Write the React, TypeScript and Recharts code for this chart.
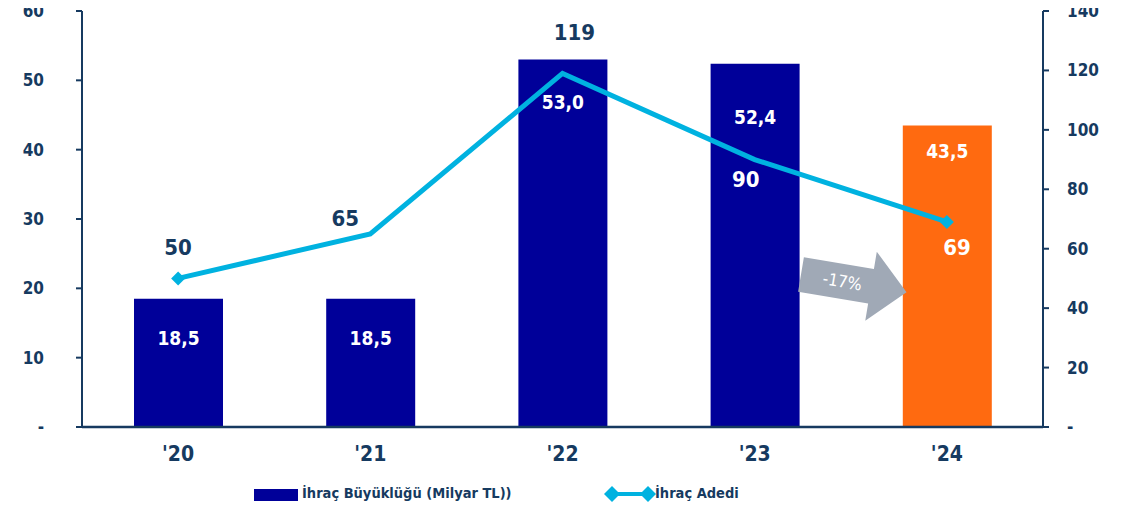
import React from 'react';
import {
  ComposedChart,
  Bar,
  Line,
  XAxis,
  YAxis,
  Legend,
  LabelList,
  Cell,
} from 'recharts';

// data
const years = ["'20", "'21", "'22", "'23", "'24"];
const issueVolume = [18.5, 18.5, 53.0, 52.4, 43.5]; // İhraç Büyüklüğü (Milyar TL)
const issueCount = [50, 65, 119, 90, 69]; // İhraç Adedi
const leftTicks = [0, 10, 20, 30, 40, 50, 60];
const rightTicks = [0, 20, 40, 60, 80, 100, 120, 140];
const changeLabel = '-17%';

// layout tweaks for the value labels (px)
const barLabelDy = [39, 39, 42, 53, 26];
const lineLabelDx = [0, -25, 12, -9, 10];
const lineLabelDy = [-31, -15, -41, 20, 26];
const lineLabelWhite = [false, false, false, true, true];
const markerIdx = [0, 4];

const NAVY = '#163A60';
const BLUE = '#000099';
const ORANGE = '#FF6A10';
const CYAN = '#00B2E0';
const FONT = '"DejaVu Sans Condensed", "DejaVu Sans", Verdana, sans-serif';

const data = years.map((year, i) => ({
  year,
  volume: issueVolume[i],
  count: issueCount[i],
}));

const fmtComma = (v: number) => v.toFixed(1).replace('.', ',');
const fmtTick = (v: number) => (v === 0 ? '-' : String(v));

const BarValueLabel = (props: any) => {
  const { x, y, width, value, index } = props;
  return (
    <text
      x={Number(x) + Number(width) / 2}
      y={Number(y) + barLabelDy[index]}
      textAnchor="middle"
      dominantBaseline="central"
      fill="#fff"
      fontFamily={FONT}
      fontWeight="bold"
      fontSize={19}
    >
      {fmtComma(Number(value))}
    </text>
  );
};

const LineValueLabel = (props: any) => {
  const { x, y, value, index } = props;
  return (
    <text
      x={Number(x) + lineLabelDx[index]}
      y={Number(y) + lineLabelDy[index]}
      textAnchor="middle"
      dominantBaseline="central"
      fill={lineLabelWhite[index] ? '#fff' : NAVY}
      fontFamily={FONT}
      fontWeight="bold"
      fontSize={22}
    >
      {value}
    </text>
  );
};

const Diamond = (props: any) => {
  const { cx, cy, index } = props;
  if (!markerIdx.includes(index)) return <g key={index} />;
  const s = 7;
  return (
    <polygon
      key={index}
      points={`${cx},${cy - s} ${cx + s},${cy} ${cx},${cy + s} ${cx - s},${cy}`}
      fill={CYAN}
    />
  );
};

const renderLegend = () => (
  <div style={{ position: 'relative', width: 1132, height: 35, fontFamily: FONT, fontWeight: 'bold', fontSize: 14.5, color: NAVY }}>
    <div style={{ position: 'absolute', left: 254, top: 12, width: 44, height: 12, background: BLUE }} />
    <div style={{ position: 'absolute', left: 302, top: 8, whiteSpace: 'nowrap' }}>İhraç Büyüklüğü (Milyar TL))</div>
    <svg style={{ position: 'absolute', left: 604, top: 8 }} width={52} height={18}>
      <line x1={6} y1={9} x2={46} y2={9} stroke={CYAN} strokeWidth={4} />
      <polygon points="0,9 8,1 16,9 8,17" fill={CYAN} />
      <polygon points="36,9 44,1 52,9 44,17" fill={CYAN} />
    </svg>
    <div style={{ position: 'absolute', left: 655, top: 8, whiteSpace: 'nowrap' }}>İhraç Adedi</div>
  </div>
);

export default function App() {
  return (
    <div style={{ margin: -8, position: 'relative', width: 1132, height: 512, background: '#fff' }}>
      <ComposedChart
        width={1132}
        height={512}
        data={data}
        margin={{ top: 11, right: 0, left: 0, bottom: 0 }}
        barCategoryGap="27%"
      >
        <XAxis
          dataKey="year"
          axisLine={{ stroke: NAVY, strokeWidth: 2.5 }}
          tickLine={false}
          height={50}
          tickMargin={13}
          tick={{ fill: NAVY, fontSize: 21, fontWeight: 'bold', fontFamily: FONT }}
        />
        <YAxis
          yAxisId="left"
          domain={[0, 60]}
          ticks={leftTicks}
          tickFormatter={fmtTick}
          width={82}
          axisLine={{ stroke: NAVY, strokeWidth: 2 }}
          tickLine={{ stroke: NAVY, strokeWidth: 2 }}
          tickSize={6}
          tickMargin={32}
          tick={{ fill: NAVY, fontSize: 17, fontWeight: 'bold', fontFamily: FONT }}
        />
        <YAxis
          yAxisId="right"
          orientation="right"
          domain={[0, 140]}
          ticks={rightTicks}
          tickFormatter={fmtTick}
          width={89}
          axisLine={{ stroke: NAVY, strokeWidth: 2 }}
          tickLine={{ stroke: NAVY, strokeWidth: 2 }}
          tickSize={6}
          tickMargin={18}
          tick={{ fill: NAVY, fontSize: 17, fontWeight: 'bold', fontFamily: FONT }}
        />
        <Legend verticalAlign="bottom" height={35} content={renderLegend} />
        <Bar yAxisId="left" dataKey="volume" name="İhraç Büyüklüğü (Milyar TL))" barSize={89} fill={BLUE} isAnimationActive={false}>
          {data.map((d, i) => (
            <Cell key={d.year} fill={i === data.length - 1 ? ORANGE : BLUE} />
          ))}
          <LabelList dataKey="volume" content={BarValueLabel} />
        </Bar>
        <Line
          yAxisId="right"
          type="linear"
          dataKey="count"
          name="İhraç Adedi"
          stroke={CYAN}
          strokeWidth={5}
          dot={Diamond}
          activeDot={false}
          isAnimationActive={false}
        >
          <LabelList dataKey="count" content={LineValueLabel} />
        </Line>
      </ComposedChart>
      <svg width={1132} height={512} style={{ position: 'absolute', left: 0, top: 0, pointerEvents: 'none' }}>
        <g transform="translate(801,274.5) rotate(9.5)">
          <polygon points="0,-17.5 71,-17.5 71,-35 107,0 71,35 71,17.5 0,17.5" fill="#A0A9B6" />
          <text x={42} y={0} textAnchor="middle" dominantBaseline="central" fill="#fff" fontFamily={FONT} fontSize={17}>
            {changeLabel}
          </text>
        </g>
      </svg>
    </div>
  );
}
